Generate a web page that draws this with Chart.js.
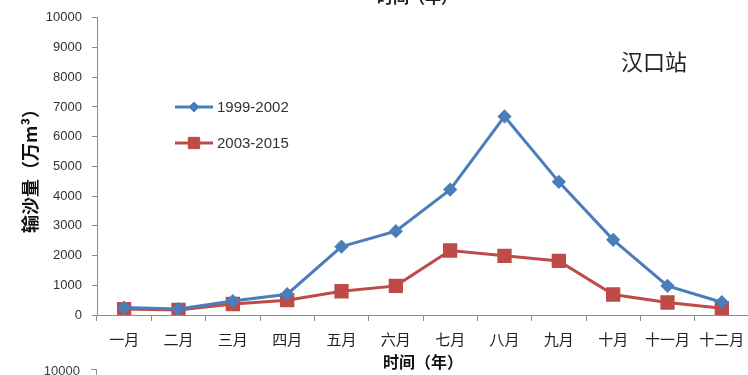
<!DOCTYPE html>
<html>
<head>
<meta charset="utf-8">
<script src="https://cdn.jsdelivr.net/npm/chart.js@4/dist/chart.umd.min.js"></script>
<style>
  html, body { margin: 0; padding: 0; background: #fff; overflow: hidden; }
  #wrap { width: 748px; height: 375px; overflow: hidden; position: relative; }
  canvas { display: block; }
</style>
</head>
<body>
<div id="wrap"><canvas id="chart" width="760" height="375"></canvas></div>
<script>
// months along the x axis
const months = ["一月", "二月", "三月", "四月", "五月", "六月", "七月", "八月", "九月", "十月", "十一月", "十二月"];

// sediment load (万m³) per month
const load1999_2002 = [250, 200, 470, 700, 2300, 2820, 4220, 6680, 4480, 2530, 980, 430];
const load2003_2015 = [200, 170, 370, 500, 800, 980, 2170, 1990, 1820, 690, 420, 230];

const seriesLabels = ["1999-2002", "2003-2015"];
const yTicks = [0, 1000, 2000, 3000, 4000, 5000, 6000, 7000, 8000, 9000, 10000];

const stationName = "汉口站";
const xTitle = "时间（年）";
const yTitle = "输沙量（万m³）";

const cjk = "'Noto Sans CJK SC', 'Noto Sans', sans-serif";
const latin = "'Liberation Sans', Arial, sans-serif";
const blue = "#4a7ebb";
const red = "#be4b48";
const axisGray = "#8c8c8c";

// legend drawn inside the plot, plus the station name and cut-off bits of the neighbouring charts
const extras = {
    id: "extras",
    afterDraw(chart) {
        const ctx = chart.ctx;
        ctx.save();

        // legend
        chart.data.datasets.forEach((ds, i) => {
            const y = 107 + i * 36;
            ctx.strokeStyle = ds.borderColor;
            ctx.lineWidth = 3;
            ctx.beginPath();
            ctx.moveTo(175, y);
            ctx.lineTo(213, y);
            ctx.stroke();
            ctx.fillStyle = ds.pointBackgroundColor;
            ctx.strokeStyle = ds.pointBorderColor;
            ctx.lineWidth = 1;
            Chart.helpers.drawPoint(ctx, {
                pointStyle: ds.pointStyle,
                radius: ds.pointRadius,
                borderWidth: 1
            }, 194, y);
            ctx.fillStyle = "#333";
            ctx.font = "15px " + latin;
            ctx.textAlign = "left";
            ctx.textBaseline = "middle";
            ctx.fillText(ds.label, 217, y + 1);
        });

        // station name
        ctx.fillStyle = "#222";
        ctx.font = "22px " + cjk;
        ctx.textAlign = "center";
        ctx.textBaseline = "middle";
        ctx.fillText(stationName, 654, 62);

        // axis title of the chart above, cut by the top edge
        ctx.font = "bold 16px " + cjk;
        ctx.fillText(xTitle, 417, -3);

        // top tick of the chart below, cut by the bottom edge
        ctx.fillStyle = "#404040";
        ctx.font = "13px " + latin;
        ctx.textAlign = "right";
        ctx.fillText("10000", 80, 371);
        ctx.strokeStyle = axisGray;
        ctx.lineWidth = 1;
        ctx.beginPath();
        ctx.moveTo(91, 369.5);
        ctx.lineTo(96.5, 369.5);
        ctx.lineTo(96.5, 376);
        ctx.stroke();

        ctx.restore();
    }
};

const chart = new Chart(document.getElementById("chart").getContext("2d"), {
    type: "line",
    data: {
        labels: months,
        datasets: [{
            label: seriesLabels[0],
            data: load1999_2002,
            borderColor: blue,
            backgroundColor: blue,
            pointBackgroundColor: blue,
            pointBorderColor: blue,
            pointStyle: "rectRot",
            pointRadius: 5,
            borderWidth: 3,
            tension: 0
        }, {
            label: seriesLabels[1],
            data: load2003_2015,
            borderColor: red,
            backgroundColor: red,
            pointBackgroundColor: red,
            pointBorderColor: red,
            pointStyle: "rect",
            pointRadius: 8,
            borderWidth: 3,
            tension: 0
        }]
    },
    options: {
        responsive: false,
        animation: false,
        devicePixelRatio: 1,
        layout: { padding: { top: 17, right: 8, left: 0, bottom: 0 } },
        plugins: {
            legend: { display: false },
            tooltip: { enabled: false }
        },
        scales: {
            x: {
                offset: true,
                grid: {
                    offset: true,
                    drawOnChartArea: false,
                    color: axisGray,
                    tickLength: 6
                },
                border: { color: axisGray, width: 1 },
                ticks: {
                    color: "#222",
                    padding: 9,
                    maxRotation: 0,
                    autoSkip: false,
                    font: { family: cjk, size: 15 }
                },
                title: {
                    display: true,
                    text: xTitle,
                    color: "#111",
                    font: { family: cjk, size: 16, weight: "bold" },
                    padding: { top: 0, bottom: 3 }
                },
                afterFit(scale) { scale.height = 60; }
            },
            y: {
                min: 0,
                max: 10000,
                afterBuildTicks(scale) { scale.ticks = yTicks.map(v => ({ value: v })); },
                grid: {
                    drawOnChartArea: false,
                    color: axisGray,
                    tickLength: 5
                },
                border: { color: axisGray, width: 1 },
                ticks: {
                    color: "#333",
                    padding: 10,
                    font: { family: latin, size: 13 },
                    callback: v => String(v)
                },
                title: {
                    display: true,
                    text: yTitle,
                    color: "#111",
                    font: { family: cjk, size: 18, weight: "bold" },
                    padding: { top: 19, bottom: 0 }
                },
                afterFit(scale) { scale.width = 97; }
            }
        }
    },
    plugins: [extras]
});
</script>
</body>
</html>
